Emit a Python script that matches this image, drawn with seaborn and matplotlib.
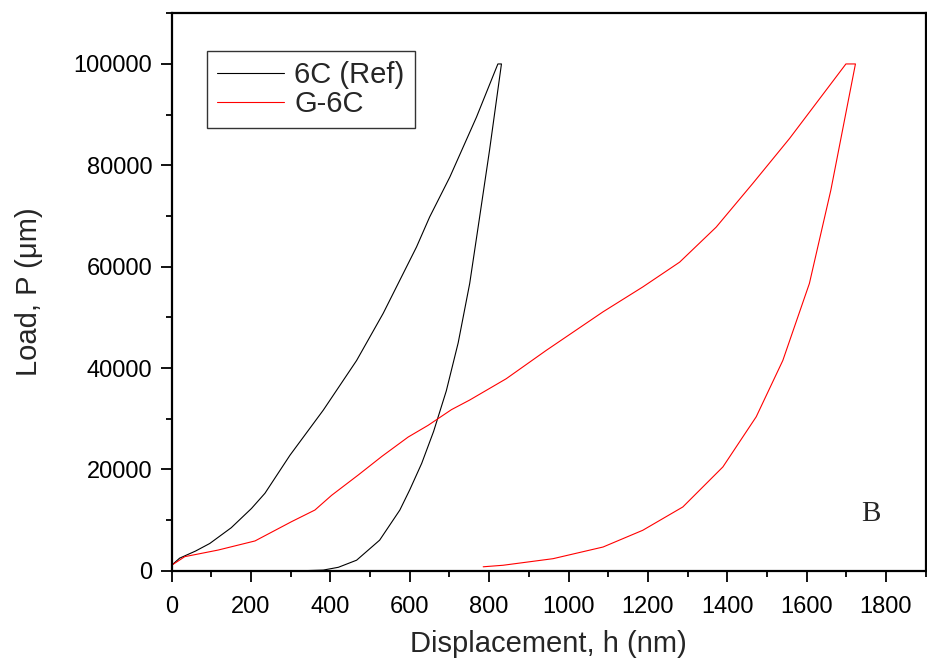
import numpy as np
import pandas as pd
import matplotlib
matplotlib.use("Agg")
import matplotlib.pyplot as plt
import seaborn as sns
from matplotlib.ticker import MultipleLocator

# 6C (Ref): loading -> hold -> unloading
ref_h = [0, 20, 60, 96, 150, 201, 235, 298, 382, 466, 533, 617, 650, 701, 768, 822,
         831,
         801, 776, 751, 722, 692, 660, 630, 600, 575, 524, 466, 420, 382, 320]
ref_p = [1100, 2500, 3900, 5400, 8500, 12300, 15300, 22800, 31700, 41500, 50800, 63900,
         69800, 77700, 89500, 100000,
         100000,
         83000, 69800, 56700, 45000, 35500, 27500, 21200, 16000, 12000, 6050, 2100, 700,
         150, 0]

# G-6C: loading -> hold -> unloading
g_h = [0, 33, 117, 210, 302, 361, 403, 470, 530, 596, 646, 705, 751, 843, 944, 1087,
       1187, 1280, 1372, 1464, 1557, 1699,
       1723,
       1661, 1607, 1540, 1473, 1389, 1288, 1187, 1087, 961, 835, 785]
g_p = [1100, 2800, 4100, 5900, 9700, 12000, 14900, 18900, 22600, 26400, 28700, 31800,
       33700, 37900, 43500, 51100, 56000, 60900, 67800, 76400, 85300, 100000,
       100000,
       75100, 56700, 41500, 30400, 20500, 12600, 8000, 4700, 2400, 1100, 800]

sns.set_style("ticks")
plt.rcParams["font.family"] = ["Liberation Sans", "DejaVu Sans"]

fig = plt.figure(figsize=(9.28, 6.63), dpi=100)
ax = fig.add_axes([0.185, 0.139, 0.8125, 0.841])

df_ref = pd.DataFrame({"h": ref_h, "P": ref_p})
df_g = pd.DataFrame({"h": g_h, "P": g_p})
sns.lineplot(data=df_ref, x="h", y="P", sort=False, estimator=None, color="black",
             lw=0.8, label="6C (Ref)", ax=ax)
sns.lineplot(data=df_g, x="h", y="P", sort=False, estimator=None, color="red",
             lw=0.8, label="G-6C", ax=ax)

ax.set_xlim(0, 1900)
ax.set_ylim(0, 110000)
ax.xaxis.set_major_locator(MultipleLocator(200))
ax.xaxis.set_minor_locator(MultipleLocator(100))
ax.yaxis.set_major_locator(MultipleLocator(20000))
ax.yaxis.set_minor_locator(MultipleLocator(10000))
ax.tick_params(which="major", direction="out", length=8, width=1.3, labelsize=17,
               color="black", labelcolor="black")
ax.tick_params(axis="x", which="major", pad=10)
ax.tick_params(axis="y", which="major", pad=6)
ax.tick_params(which="minor", direction="out", length=4.3, width=1.3, color="black")
for s in ax.spines.values():
    s.set_linewidth(1.6)
    s.set_color("black")

ax.set_xlabel("Displacement, h (nm)", fontsize=21, labelpad=9)
ax.set_ylabel("Load, P (\u03bcm)", fontsize=21, labelpad=22)

ax.text(1763, 11200, "B", fontsize=21, family=["Liberation Serif", "DejaVu Serif"],
        ha="center", va="center")

leg = ax.legend(loc="upper left", bbox_to_anchor=(0.0464, 0.932), borderaxespad=0,
                fontsize=21, frameon=True, fancybox=False, edgecolor="black",
                handlelength=2.3, handletextpad=0.35, labelspacing=0.02, borderpad=0.35)
leg.get_frame().set_linewidth(1.0)
for line in leg.get_lines():
    line.set_linewidth(0.8)

fig.savefig("out.png", dpi=100)
